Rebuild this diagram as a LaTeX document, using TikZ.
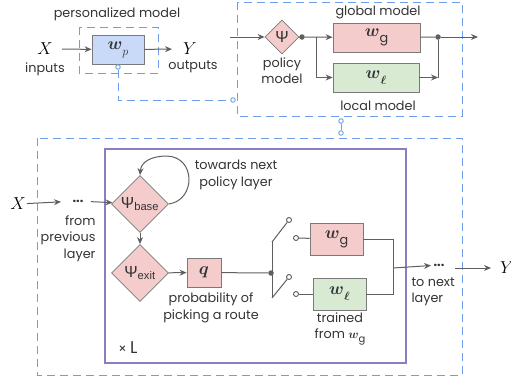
\documentclass[tikz,border=0pt]{standalone}
\usepackage{xcolor}
\usepackage{amsmath}
\usepackage{bm}
\usepackage{fontspec}
\setmainfont{Poppins}
\newfontfamily\psifont{Liberation Sans}
\usepackage{tikz}
\usetikzlibrary{arrows.meta,shapes.geometric}

\definecolor{wiregray}{HTML}{5F5F5F}
\definecolor{boxgray}{HTML}{7A7A7A}
\definecolor{pinkfill}{HTML}{F4CCCC}
\definecolor{greenfill}{HTML}{D9EAD3}
\definecolor{bluefill}{HTML}{C9DAF8}
\definecolor{dashblue}{HTML}{6D9EEB}
\definecolor{framepurple}{HTML}{8E7CC3}

% bold w with a lowered index
\newcommand{\wsub}[1]{{\fontsize{16}{16}\selectfont$\bm{w}$}\raisebox{-6pt}{#1}}

\begin{document}
\begin{tikzpicture}[x=1pt,y=-1pt,
  every node/.style={font=\fontsize{12.8}{16.5}\selectfont, text=black!80},
  wbox/.style={draw=boxgray, line width=0.8pt, minimum width=#1, minimum height=29pt, inner sep=0pt},
  psibox/.style={diamond, draw=boxgray, line width=0.8pt, fill=pinkfill, inner sep=0pt,
    minimum width=#1, minimum height=#1, font=\psifont\fontsize{16}{16}\selectfont},
  wire/.style={draw=wiregray, line width=1pt},
  arr/.style={wire, -{Stealth[length=7pt,width=6pt]}},
  frame/.style={draw=dashblue, line width=1pt, dash pattern=on 8pt off 5pt},
  ring/.style={circle, draw=dashblue, fill=white, line width=0.9pt, inner sep=0pt, minimum size=4.5pt},
  contact/.style={circle, draw=wiregray, fill=white, line width=0.9pt, inner sep=0pt, minimum size=5pt},
  joint/.style={circle, fill=wiregray, inner sep=0pt, minimum size=5.5pt},
  bigvar/.style={font=\fontsize{17}{17}\selectfont, text=black, inner sep=1pt}]
\useasboundingbox (0,0) rectangle (511,381);

% personalized model
\node (pmtitle) at (117,14) {personalized model};
\draw[frame] (79,27) rectangle (158,73);
\node[wbox=52pt, fill=bluefill] (wp) at (118,49.5) {\wsub{$p$}};
\node[bigvar] (xtop) at (45,49) {$X$};
\node (inputs) at (45,69) {inputs};
\node[bigvar] (ytop) at (190,49) {$Y$};
\node (outputs) at (193,67) {outputs};
\draw[arr, shorten <=8pt] (xtop) -- (wp);
\draw[arr, shorten >=10pt] (wp) -- (ytop);
\node[ring] (wplink) at (118,67) {};
\node[ring] (boxlink) at (233,100) {};
\draw[frame] (wplink) |- (boxlink);

% global + local model
\draw[frame] (237,2) rectangle (462,116);
\coordinate (psiin) at (230,37);
\node[psibox=34pt] (psi) at (282,37) {Ψ};
\node[align=center] (policy) at (282,70.5) {policy\\model};
\node[joint] (psiout) at (302,37) {};
\coordinate (fork) at (316,37);
\node[wbox=87pt, fill=pinkfill] (wglob) at (376.5,37.5) {\wsub{g}};
\node[wbox=86pt, fill=greenfill] (wloc) at (376,77.5) {\wsub{$\bm{\ell}$}};
\node (globtitle) at (378,12) {global model};
\node (loctitle) at (378,106) {local model};
\node[joint] (merge) at (438,37) {};
\coordinate (mout) at (478,37);
\draw[arr] (psiin) -- (psi);
\draw[wire] (psi) -- (psiout);
\draw[arr] (psiout) -- (wglob);
\draw[arr] (fork) |- (wloc);
\draw[wire] (wglob) -- (merge);
\draw[arr] (wloc.east) -- (wloc.east -| merge);
\draw[wire] (wloc.east -| merge) -- (merge);
\draw[arr] (merge) -- (mout);

\node[ring] (linka) at (341,121) {};
\node[ring] (linkb) at (341,133) {};
\draw[dashblue, line width=0.9pt] (linka) -- (linkb);

% one policy layer
\draw[frame] (37,138) rectangle (462,375);
\draw[framepurple, line width=1.1pt] (105,149) rectangle (406,363);

\node[bigvar] (xbot) at (18,204) {$X$};
\node (prevdots) at (78,201) {\textbf{...}};
\node[align=right, anchor=east] (prevlab) at (99,238.5) {from\\previous\\layer};
\draw[arr, shorten >=17pt] (xbot) -- (prevdots.center);
\node[psibox=57pt] (pbase) at (140,204) {Ψ\textsubscript{base}};
\node[psibox=57pt] (pexit) at (140,273) {Ψ\textsubscript{exit}};
\draw[arr, shorten <=4pt] (prevdots) -- (pbase);
\draw[arr] (pbase.east) .. controls (196,200) and (196,157) .. (167,156)
  .. controls (151,156) and (141,162) .. (pbase.north);
\node[align=center] (towards) at (236,175) {towards next\\policy layer};
\draw[arr] (pbase) -- (pexit);

\node[wbox=34pt, fill=pinkfill] (qbox) at (204,272.5) {\fontsize{16}{16}\selectfont$\bm{q}$};
\draw[arr] (pexit) -- (qbox);
\node[align=center] (problab) at (211,308) {probability of\\picking a route};
\node[joint] (swin) at (271,273) {};
\draw[wire] (qbox) -- (swin);

% route switch
\coordinate (swtop) at (272,242);
\coordinate (swbot) at (272,298);
\node[contact] (bladea) at (289,220) {};
\node[contact] (bladeb) at (289,277) {};
\node[contact] (pina) at (296,238) {};
\node[contact] (pinb) at (296,294) {};
\draw[wire] (swtop) -- (swbot);
\draw[wire] (swtop) -- (bladea);
\draw[wire] (swbot) -- (bladeb);

\node[wbox=53pt, minimum height=32pt, fill=pinkfill] (wgr) at (336.5,239) {\wsub{g}};
\node[wbox=53pt, minimum height=32pt, fill=greenfill] (wlr) at (339.5,294) {\wsub{$\bm{\ell}$}};
\node[align=center] (trained) at (340,329) {trained\\from {\fontsize{13}{13}\selectfont$\bm{w}$}\raisebox{-4pt}{\fontsize{10}{10}\selectfont g}};
\draw[wire] (pina) -- (wgr);
\draw[wire] (pinb) -- (wlr);

\coordinate (join) at (393,268);
\draw[wire] (wgr.east) -| (join);
\draw[wire] (wlr.east) -| (join);
\node (nextdots) at (439,265) {\textbf{...}};
\node[align=left, anchor=west] (nextlab) at (408,292) {to next\\layer};
\draw[arr, shorten >=8pt] (join) -- (nextdots.center);
\coordinate (yfrom) at (455,268);
\node[bigvar] (ybot) at (507,268) {$Y$};
\draw[arr, shorten >=16pt] (yfrom) -- (ybot.center);

\node (times) at (128,348) {{\fontsize{13}{13}\selectfont ×} {\fontsize{17}{17}\selectfont L}};
\end{tikzpicture}
\end{document}
